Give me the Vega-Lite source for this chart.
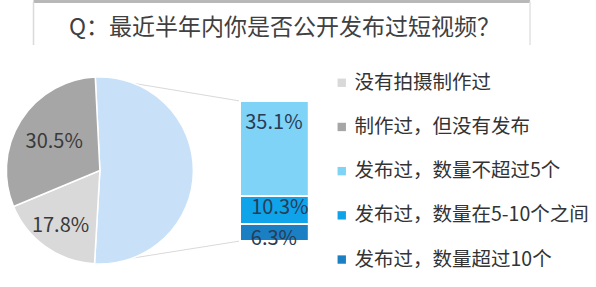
{
  "$schema": "https://vega.github.io/schema/vega-lite/v6.json",
  "width": 596,
  "height": 287,
  "padding": 0,
  "autosize": {"type": "none"},
  "background": "white",
  "config": {
    "view": {"stroke": null},
    "font": "Noto Sans CJK SC",
    "text": {"font": "Noto Sans CJK SC"}
  },
  "datasets": {
    "pie": [
      {"cat": "发布过", "v": 0.517},
      {"cat": "没有拍摄制作过", "v": 0.178},
      {"cat": "制作过，但没有发布", "v": 0.305}
    ],
    "bar": [
      {"cat": "发布过，数量不超过5个", "v": 0.351},
      {"cat": "发布过，数量在5-10个之间", "v": 0.103},
      {"cat": "发布过，数量超过10个", "v": 0.063}
    ],
    "title": [{"q": "Q：最近半年内你是否公开发布过短视频？"}]
  },
  "resolve": {"scale": {"y": "independent"}},
  "layer": [
    {
      "data": {"values": [{}]},
      "mark": {"type": "rule", "stroke": "#b8b8b8", "strokeWidth": 3},
      "encoding": {
        "x": {"datum": 29, "scale": {"domain": [0, 596], "range": [0, 596], "nice": false, "zero": false}, "axis": null},
        "x2": {"datum": 534},
        "y": {"datum": 1.5, "scale": {"domain": [0, 287], "range": [0, 287], "nice": false, "zero": false}, "axis": null}
      }
    },
    {
      "data": {"values": [{}]},
      "mark": {"type": "rule", "stroke": "#dadada", "strokeWidth": 1.5},
      "encoding": {
        "x": {"datum": 29, "scale": {"domain": [0, 596], "range": [0, 596], "nice": false, "zero": false}, "axis": null},
        "y": {"datum": 1.5, "scale": {"domain": [0, 287], "range": [0, 287], "nice": false, "zero": false}, "axis": null},
        "y2": {"datum": 45}
      }
    },
    {
      "data": {"values": [{}]},
      "mark": {"type": "rule", "stroke": "#e2e2e2", "strokeWidth": 1.5},
      "encoding": {
        "x": {"datum": 534, "scale": {"domain": [0, 596], "range": [0, 596], "nice": false, "zero": false}, "axis": null},
        "y": {"datum": 1.5, "scale": {"domain": [0, 287], "range": [0, 287], "nice": false, "zero": false}, "axis": null},
        "y2": {"datum": 45}
      }
    },
    {
      "data": {"name": "title"},
      "mark": {"type": "text", "align": "left", "baseline": "middle", "fontSize": 23, "color": "#404040"},
      "encoding": {
        "text": {"field": "q"},
        "x": {"datum": 65, "scale": {"domain": [0, 596], "range": [0, 596], "nice": false, "zero": false}, "axis": null},
        "y": {"datum": 28, "scale": {"domain": [0, 287], "range": [0, 287], "nice": false, "zero": false}, "axis": null}
      }
    },
    {
      "data": {"values": [{}]},
      "mark": {"type": "rule", "stroke": "#d9d9d9", "strokeWidth": 1},
      "encoding": {
        "x": {"datum": 92, "scale": {"domain": [0, 596], "range": [0, 596], "nice": false, "zero": false}, "axis": null},
        "x2": {"datum": 239},
        "y": {"datum": 77, "scale": {"domain": [0, 287], "range": [0, 287], "nice": false, "zero": false}, "axis": null},
        "y2": {"datum": 101}
      }
    },
    {
      "data": {"values": [{}]},
      "mark": {"type": "rule", "stroke": "#d9d9d9", "strokeWidth": 1},
      "encoding": {
        "x": {"datum": 92, "scale": {"domain": [0, 596], "range": [0, 596], "nice": false, "zero": false}, "axis": null},
        "x2": {"datum": 239},
        "y": {"datum": 264, "scale": {"domain": [0, 287], "range": [0, 287], "nice": false, "zero": false}, "axis": null},
        "y2": {"datum": 241}
      }
    },
    {
      "data": {"name": "pie"},
      "mark": {"type": "arc", "outerRadius": 93.5, "stroke": "white", "strokeWidth": 1.5},
      "encoding": {
        "theta": {"field": "v", "type": "quantitative", "stack": true, "scale": {"range": [3.199, -3.084]}},
        "order": {"field": "v", "sort": "descending"},
        "color": {
          "condition": {"test": "datum.cat === '发布过'", "value": "#c8e1f8"},
          "field": "cat",
          "type": "nominal",
          "scale": {
            "domain": ["没有拍摄制作过", "制作过，但没有发布", "发布过，数量不超过5个", "发布过，数量在5-10个之间", "发布过，数量超过10个"],
            "range": ["#d9d9d9", "#a6a6a6", "#7ed3f7", "#0fa3e9", "#1b7fc3"]
          },
          "legend": {
            "title": null,
            "orient": "none",
            "legendX": 332,
            "legendY": 73,
            "symbolType": "square",
            "symbolSize": 70,
            "symbolStrokeWidth": 0,
            "labelFontSize": 19.5,
            "labelFont": "Noto Sans CJK SC",
            "labelColor": "#333333",
            "labelOffset": 3,
            "rowPadding": 23.2,
            "padding": 0,
            "labelLimit": 400
          }
        },
        "x": {"datum": 96.5, "scale": {"domain": [0, 596], "range": [0, 596], "nice": false, "zero": false}, "axis": null},
        "y": {"datum": 170.5, "scale": {"domain": [0, 287], "range": [0, 287], "nice": false, "zero": false}, "axis": null}
      }
    },
    {
      "data": {"name": "pie"},
      "mark": {"type": "text", "radius": 54, "fontSize": 20, "color": "#3a3a3a"},
      "encoding": {
        "theta": {"field": "v", "type": "quantitative", "stack": true},
        "order": {"field": "v", "sort": "descending"},
        "text": {"condition": {"test": "datum.cat === '制作过，但没有发布'", "field": "v", "type": "quantitative", "format": ".1%"}, "value": ""},
        "x": {"datum": 96.5, "scale": {"domain": [0, 596], "range": [0, 596], "nice": false, "zero": false}, "axis": null},
        "y": {"datum": 170.5, "scale": {"domain": [0, 287], "range": [0, 287], "nice": false, "zero": false}, "axis": null}
      }
    },
    {
      "data": {"name": "pie"},
      "mark": {"type": "text", "radius": 68, "fontSize": 20, "color": "#3a3a3a"},
      "encoding": {
        "theta": {"field": "v", "type": "quantitative", "stack": true},
        "order": {"field": "v", "sort": "descending"},
        "text": {"condition": {"test": "datum.cat === '没有拍摄制作过'", "field": "v", "type": "quantitative", "format": ".1%"}, "value": ""},
        "x": {"datum": 96.5, "scale": {"domain": [0, 596], "range": [0, 596], "nice": false, "zero": false}, "axis": null},
        "y": {"datum": 170.5, "scale": {"domain": [0, 287], "range": [0, 287], "nice": false, "zero": false}, "axis": null}
      }
    },
    {
      "data": {"name": "bar"},
      "mark": {"type": "bar", "orient": "vertical", "stroke": "white", "strokeWidth": 2},
      "encoding": {
        "x": {"datum": 239, "scale": {"domain": [0, 596], "range": [0, 596], "nice": false, "zero": false}, "axis": null},
        "x2": {"datum": 309},
        "y": {"field": "v", "type": "quantitative", "stack": true, "scale": {"domain": [0, 0.517], "range": [241, 101], "nice": false, "zero": false}, "axis": null},
        "order": {"field": "v", "sort": "ascending"},
        "color": {
          "field": "cat",
          "type": "nominal",
          "scale": {
            "domain": ["没有拍摄制作过", "制作过，但没有发布", "发布过，数量不超过5个", "发布过，数量在5-10个之间", "发布过，数量超过10个"],
            "range": ["#d9d9d9", "#a6a6a6", "#7ed3f7", "#0fa3e9", "#1b7fc3"]
          },
          "legend": {
            "title": null,
            "orient": "none",
            "legendX": 332,
            "legendY": 73,
            "symbolType": "square",
            "symbolSize": 70,
            "symbolStrokeWidth": 0,
            "labelFontSize": 19.5,
            "labelFont": "Noto Sans CJK SC",
            "labelColor": "#333333",
            "labelOffset": 3,
            "rowPadding": 23.2,
            "padding": 0,
            "labelLimit": 400
          }
        }
      }
    },
    {
      "data": {"name": "bar"},
      "mark": {"type": "text", "fontSize": 20, "color": "#283c56", "baseline": "middle", "dy": 22},
      "encoding": {
        "x": {"datum": 273.5, "scale": {"domain": [0, 596], "range": [0, 596], "nice": false, "zero": false}, "axis": null},
        "y": {"field": "v", "type": "quantitative", "stack": true, "scale": {"domain": [0, 0.517], "range": [241, 101], "nice": false, "zero": false}, "axis": null},
        "order": {"field": "v", "sort": "ascending"},
        "text": {"condition": {"test": "datum.cat === '发布过，数量不超过5个'", "field": "v", "type": "quantitative", "format": ".1%"}, "value": ""}
      }
    },
    {
      "data": {"name": "bar"},
      "mark": {"type": "text", "fontSize": 20, "color": "#283c56", "baseline": "middle", "dy": 12},
      "encoding": {
        "x": {"datum": 279.5, "scale": {"domain": [0, 596], "range": [0, 596], "nice": false, "zero": false}, "axis": null},
        "y": {"field": "v", "type": "quantitative", "stack": true, "scale": {"domain": [0, 0.517], "range": [241, 101], "nice": false, "zero": false}, "axis": null},
        "order": {"field": "v", "sort": "ascending"},
        "text": {"condition": {"test": "datum.cat === '发布过，数量在5-10个之间'", "field": "v", "type": "quantitative", "format": ".1%"}, "value": ""}
      }
    },
    {
      "data": {"name": "bar"},
      "mark": {"type": "text", "fontSize": 20, "color": "#283c56", "baseline": "middle", "dy": 15},
      "encoding": {
        "x": {"datum": 273.5, "scale": {"domain": [0, 596], "range": [0, 596], "nice": false, "zero": false}, "axis": null},
        "y": {"field": "v", "type": "quantitative", "stack": true, "scale": {"domain": [0, 0.517], "range": [241, 101], "nice": false, "zero": false}, "axis": null},
        "order": {"field": "v", "sort": "ascending"},
        "text": {"condition": {"test": "datum.cat === '发布过，数量超过10个'", "field": "v", "type": "quantitative", "format": ".1%"}, "value": ""}
      }
    }
  ]
}
